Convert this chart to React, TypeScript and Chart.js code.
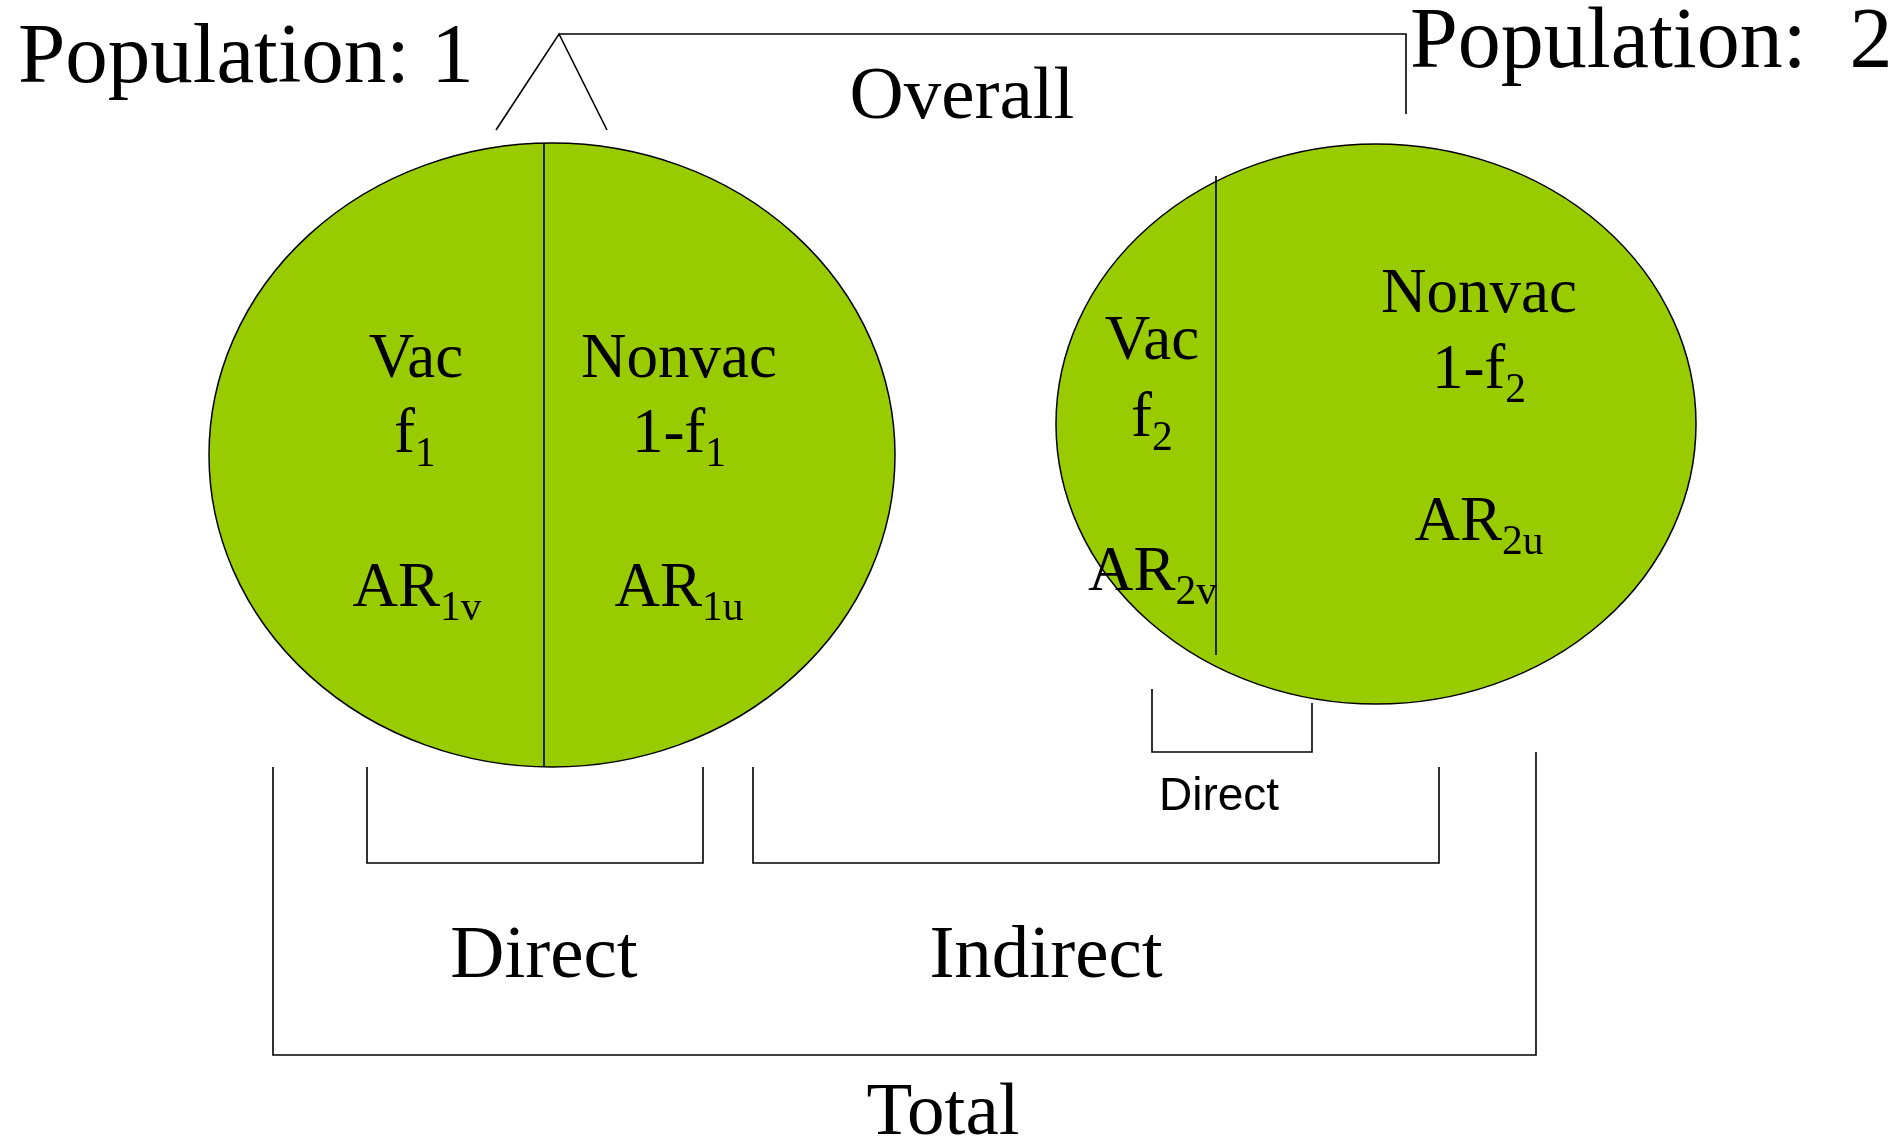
import React, { useEffect, useRef } from "react";
import { Chart, registerables } from "chart.js";

Chart.register(...registerables);

const W = 1901;
const H = 1142;

// Population ellipses
const ellipseCx = [552, 1376];
const ellipseCy = [455, 424];
const ellipseRx = [343, 320];
const ellipseRy = [312, 280];
const ellipseFill = "#99CC00";

// Line segments (polylines)
const overallCaret = [[496, 130], [559, 34], [607, 130]];
const overallBar = [[559, 34], [1406, 34], [1406, 114]];
const divider1 = [[544, 143], [544, 767]];
const divider2 = [[1216, 176], [1216, 655]];
const smallDirectBracket = [[1152, 689], [1152, 752], [1312, 752], [1312, 703]];
const directBracket = [[367, 767], [367, 863], [703, 863], [703, 767]];
const indirectBracket = [[753, 767], [753, 863], [1439, 863], [1439, 767]];
const totalBracket = [[273, 767], [273, 1055], [1536, 1055], [1536, 752]];

const polylines = [
  overallCaret,
  overallBar,
  divider1,
  divider2,
  smallDirectBracket,
  directBracket,
  indirectBracket,
  totalBracket,
];

// Labels
const labelText = [
  "Population: 1", "Population:  2", "Overall",
  "Vac", "f", "AR", "Nonvac", "1-f", "AR",
  "Vac", "f", "AR", "Nonvac", "1-f", "AR",
  "Direct", "Direct", "Indirect", "Total",
];
const labelSub = [
  "", "", "",
  "", "1", "1v", "", "1", "1u",
  "", "2", "2v", "", "2", "2u",
  "", "", "", "",
];
const labelX = [
  18, 1410, 962,
  416, 415, 417, 679, 679, 679,
  1152, 1152, 1088, 1479, 1479, 1479,
  1219, 544, 1046, 943,
];
const labelY = [
  82, 67, 118,
  377, 452, 606, 377, 452, 606,
  359, 436, 590, 312, 388, 540,
  810, 977, 977, 1134,
];
const labelSize = [
  85, 86, 75,
  63, 63, 63, 63, 63, 63,
  63, 63, 63, 63, 63, 63,
  46, 75, 75, 75,
];
const labelAlign = [
  "left", "left", "center",
  "center", "center", "center", "center", "center", "center",
  "center", "center", "left", "center", "center", "center",
  "center", "center", "center", "center",
];
const labelFamily = [
  "serif", "serif", "serif",
  "serif", "serif", "serif", "serif", "serif", "serif",
  "serif", "serif", "serif", "serif", "serif", "serif",
  "sans", "serif", "serif", "serif",
];

const SERIF = '"Liberation Serif", "Times New Roman", serif';
const SANS = '"Liberation Sans", Arial, sans-serif';

const ellipsePlugin = {
  id: "ellipses",
  beforeDatasetsDraw(chart: any) {
    const { ctx, scales } = chart;
    const xs = scales.x;
    const ys = scales.y;
    ctx.save();
    for (let i = 0; i < ellipseCx.length; i++) {
      const cx = xs.getPixelForValue(ellipseCx[i]);
      const cy = ys.getPixelForValue(ellipseCy[i]);
      const rx = Math.abs(xs.getPixelForValue(ellipseCx[i] + ellipseRx[i]) - cx);
      const ry = Math.abs(ys.getPixelForValue(ellipseCy[i] + ellipseRy[i]) - cy);
      ctx.beginPath();
      ctx.ellipse(cx, cy, rx, ry, 0, 0, Math.PI * 2);
      ctx.fillStyle = ellipseFill;
      ctx.fill();
      ctx.lineWidth = 1.5;
      ctx.strokeStyle = "#000";
      ctx.stroke();
    }
    ctx.restore();
  },
};

const labelPlugin = {
  id: "labels",
  afterDatasetsDraw(chart: any) {
    const { ctx, scales } = chart;
    ctx.save();
    ctx.fillStyle = "#000";
    ctx.textBaseline = "alphabetic";
    ctx.textAlign = "left";
    for (let i = 0; i < labelText.length; i++) {
      const fam = labelFamily[i] === "sans" ? SANS : SERIF;
      const size = labelSize[i];
      const subSize = size * 0.66;
      ctx.font = `${size}px ${fam}`;
      const mainW = ctx.measureText(labelText[i]).width;
      ctx.font = `${subSize}px ${fam}`;
      const subW = labelSub[i] ? ctx.measureText(labelSub[i]).width : 0;
      const x = scales.x.getPixelForValue(labelX[i]);
      const y = scales.y.getPixelForValue(labelY[i]);
      const left = labelAlign[i] === "center" ? x - (mainW + subW) / 2 : x;
      ctx.font = `${size}px ${fam}`;
      ctx.fillText(labelText[i], left, y);
      if (labelSub[i]) {
        ctx.font = `${subSize}px ${fam}`;
        ctx.fillText(labelSub[i], left + mainW, y + size * 0.22);
      }
    }
    ctx.restore();
  },
};

export default function App() {
  const ref = useRef<HTMLCanvasElement | null>(null);

  useEffect(() => {
    if (!ref.current) return;
    const chart = new Chart(ref.current, {
      type: "scatter",
      data: {
        datasets: polylines.map((pl) => ({
          data: pl.map((p) => ({ x: p[0], y: p[1] })),
          showLine: true,
          borderColor: "#000",
          borderWidth: 1.6,
          pointRadius: 0,
          pointHoverRadius: 0,
          fill: false,
          tension: 0,
        })),
      },
      options: {
        animation: false,
        responsive: false,
        devicePixelRatio: 1,
        layout: { padding: 0 },
        plugins: {
          legend: { display: false },
          tooltip: { enabled: false },
        },
        scales: {
          x: { type: "linear", min: 0, max: W, display: false },
          y: { type: "linear", min: 0, max: H, reverse: true, display: false },
        },
      },
      plugins: [ellipsePlugin, labelPlugin],
    } as any);
    return () => chart.destroy();
  }, []);

  return (
    <div style={{ position: "fixed", left: 0, top: 0, width: W, height: H, background: "#fff" }}>
      <canvas ref={ref} width={W} height={H} style={{ display: "block" }} />
    </div>
  );
}
